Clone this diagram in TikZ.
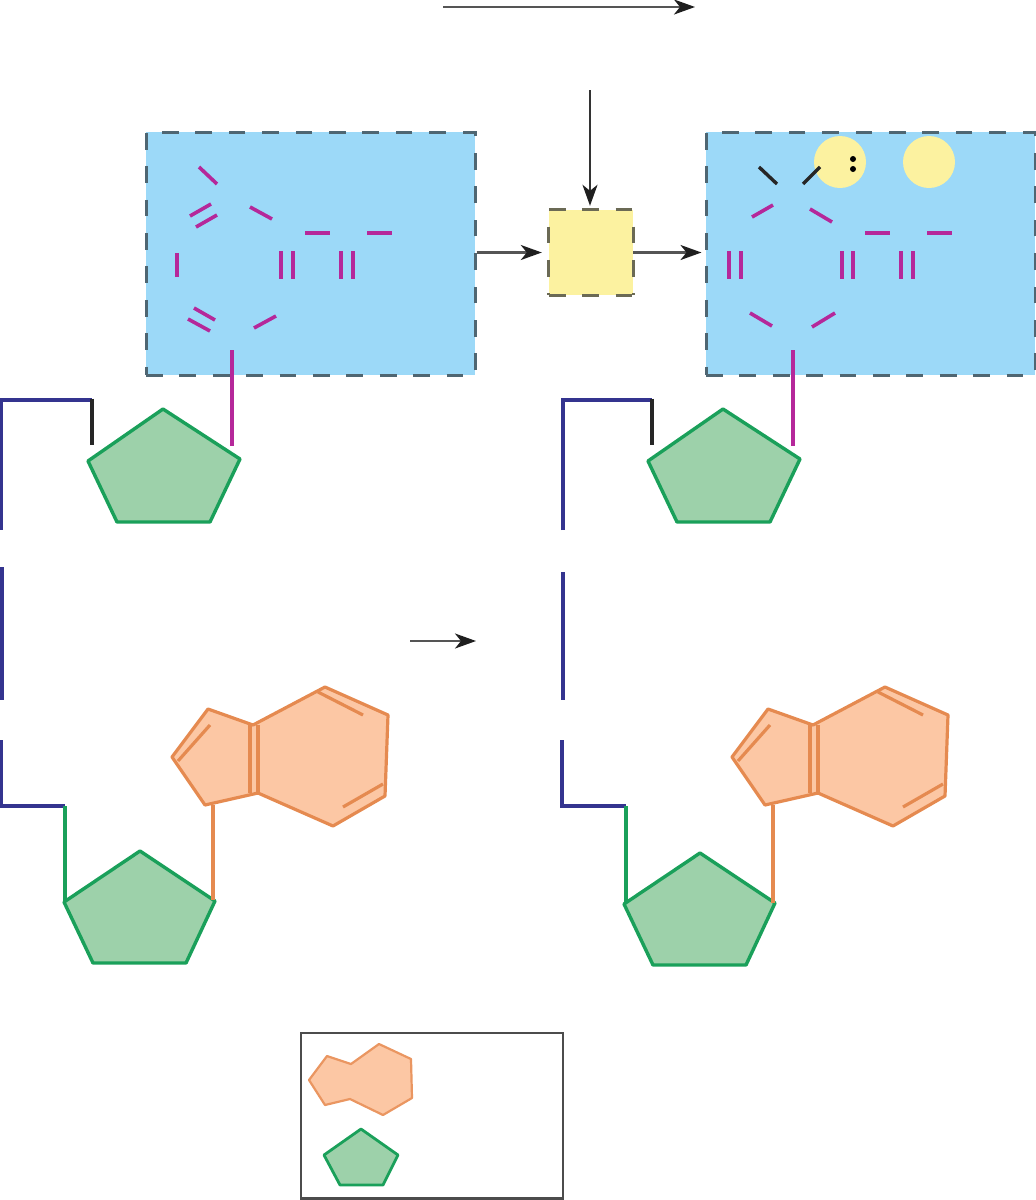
\documentclass[tikz,border=0pt]{standalone}
\usetikzlibrary{arrows.meta}
\definecolor{skyfill}{HTML}{9CD9F8}
\definecolor{dashgray}{HTML}{4F6672}
\definecolor{dasholive}{HTML}{6B6A55}
\definecolor{paleyellow}{HTML}{FCF2A0}
\definecolor{magentaline}{HTML}{B5289A}
\definecolor{greenfill}{HTML}{9DD1AA}
\definecolor{greenline}{HTML}{1AA05A}
\definecolor{navyline}{HTML}{34348F}
\definecolor{orangefill}{HTML}{FCC7A4}
\definecolor{orangeline}{HTML}{E58A50}
\definecolor{arrowgray}{HTML}{555555}
\tikzset{
  x=1pt,y=-1pt,
  basebox/.style={draw=dashgray,fill=skyfill,line width=3pt,dash pattern=on 16.7pt off 16.7pt,inner sep=0pt,minimum width=329pt,minimum height=243pt},
  yellowbox/.style={fill=paleyellow,inner sep=0pt,minimum width=84pt,minimum height=85pt},
  yellowdash/.style={draw=dasholive,line width=2.8pt,dash pattern=on 16.7pt off 16.7pt},
  bond/.style={draw=magentaline,line width=3.6pt},
  blackbond/.style={draw=black!85,line width=3.4pt},
  stem/.style={draw=magentaline,line width=3.6pt},
  sugar/.style={draw=greenline,fill=greenfill,line width=3.4pt,line join=round},
  backbone/.style={draw=navyline,line width=3.4pt,line join=miter},
  greenbone/.style={draw=greenline,line width=3.4pt},
  ringshape/.style={draw=orangeline,fill=orangefill,line width=3.2pt,line join=round},
  ringline/.style={draw=orangeline,line width=3.2pt},
  flow/.style={draw=arrowgray,line width=2.2pt,-{Stealth[length=21pt,width=15pt,inset=6pt,color=black!88]}},
  lonepair/.style={circle,fill=paleyellow,inner sep=0pt,minimum size=52pt},
  legendbox/.style={draw=black!70,line width=2.8pt}
}
\newcommand{\purine}[1]{%
  \begin{scope}[xshift=#1]
    \draw[ringshape] (208,709) -- (253,725) -- (325,687) -- (388,715) -- (385,796) -- (333,826) -- (258,793) -- (205,805) -- (172,757) -- cycle;
    \draw[ringline] (210,725) -- (178,761);
    \draw[ringline] (250,725) -- (250,793);
    \draw[ringline] (258,725) -- (258,793);
    \draw[ringline] (318,692) -- (363,715);
    \draw[ringline] (383,784) -- (343,807);
  \end{scope}}
\begin{document}
\begin{tikzpicture}
\useasboundingbox (0,0) rectangle (1036,1200);
% arrows free ends
\coordinate (topA) at (443,7);
\coordinate (topB) at (695,7);
\coordinate (downA) at (590,90);
\coordinate (midA) at (410,641);
\coordinate (midB) at (476,641);
% boxes
\node[basebox] (boxL) at (310.5,253.5) {};
\node[basebox] (boxR) at (870.5,253.5) {};
\node[yellowbox] (enz) at (591,252.5) {};
\draw[yellowdash] (enz.north west) -- (enz.north east);
\draw[yellowdash] (enz.south west) -- (enz.south east);
\draw[yellowdash,dash phase=16.7pt] (enz.north west) -- (enz.south west);
\draw[yellowdash,dash phase=16.7pt] (enz.north east) -- (enz.south east);
\node[lonepair] (lpA) at (840,162) {};
\node[lonepair] (lpB) at (929,162) {};
\fill[black] (853,159) circle (3pt) (853,169) circle (3pt);
% connectors
\draw[flow] (topA) -- (topB);
\draw[flow] (midA) -- (midB);
\draw[flow,draw=black!80,shorten >=4pt] (downA) -- (enz.north -| downA);
\draw[flow,shorten >=7pt] (boxL.east |- enz.west) -- (enz.west);
\draw[flow,shorten >=3pt] (enz.east) -- (boxR.west |- enz.east);
% left base bonds
\foreach \a/\b/\c/\d in {199/167/217/184,211/204/190/216,217/215/196/227,250/207/272/219,305/233/330/233,367/233/392/233,177/253/177/277,281/251/281/279,293/251/293/279,341/251/341/279,353/251/353/279,194/308/215/320,188/319/210/331,254/328/276/316}
  \draw[bond] (\a,\b) -- (\c,\d);
% right base bonds
\foreach \a/\b/\c/\d in {752/217/773/205,810/209/832/222,865/233/890/233,927/233/952/233,729/251/729/279,741/251/741/279,842/251/842/279,853/251/853/279,901/251/901/279,913/251/913/279,750/313/772/326,812/327/835/313}
  \draw[bond] (\a,\b) -- (\c,\d);
\draw[blackbond] (759,167) -- (777,184);
\draw[blackbond] (803,184) -- (820,167);
% sugars upper
\draw[sugar] (163,409) -- (240,459) -- (210,522) -- (117,522) -- (88,461) -- cycle;
\draw[sugar] (723,409) -- (800,459) -- (770,522) -- (677,522) -- (648,461) -- cycle;
\draw[stem] (232,350) -- (232,446);
\draw[stem] (793,350) -- (793,446);
% backbones
\draw[backbone] (1,530) -- (1,400) -- (92,400);
\draw[line width=3.4pt,black!85] (92,398.5) -- (92,445);
\draw[backbone] (563,530) -- (563,400) -- (652,400);
\draw[line width=3.4pt,black!85] (652,398.5) -- (652,445);
\draw[backbone] (2,567) -- (2,700);
\draw[backbone] (563,572) -- (563,700);
\draw[backbone] (1,740) -- (1,806) -- (65,806);
\draw[greenbone] (65,806) -- (65,902);
\draw[backbone] (562,740) -- (562,806) -- (626,806);
\draw[greenbone] (626,806) -- (626,903);
% sugars lower
\draw[sugar] (140,851) -- (215,901) -- (186,963) -- (93,963) -- (64,902) -- cycle;
\draw[sugar] (700,853) -- (775,903) -- (746,965) -- (653,965) -- (624,904) -- cycle;
% purines
\purine{0pt}
\purine{560pt}
\draw[ringline] (213,805) -- (213,900);
\draw[ringline] (773,805) -- (773,903);
% legend
\draw[legendbox] (301,1033) rectangle (563,1198.5);
\draw[draw=orangeline!80!orangefill,fill=orangefill,line width=2.2pt,line join=round] (309,1080) -- (327,1056) -- (351,1064) -- (379,1044) -- (411,1059) -- (412,1098) -- (383,1115) -- (350,1099) -- (325,1105) -- cycle;
\draw[sugar,line width=2.8pt] (361,1129) -- (398,1155) -- (383,1185) -- (340,1185) -- (324,1155) -- cycle;
\end{tikzpicture}
\end{document}
